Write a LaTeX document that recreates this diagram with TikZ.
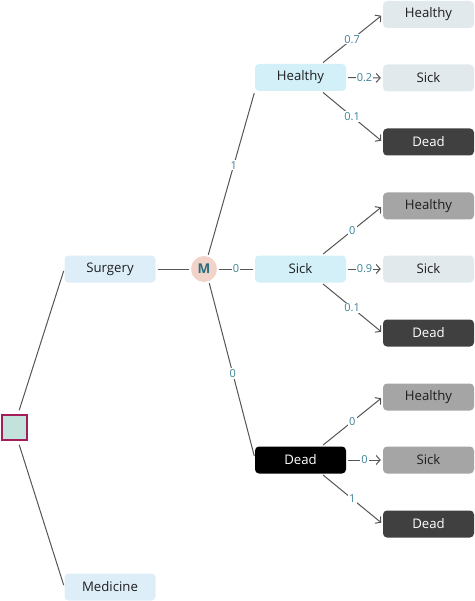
\documentclass[tikz,border=0pt]{standalone}
\usepackage{fontspec}
\setmainfont{Open Sans}
\usetikzlibrary{arrows.meta}
\definecolor{edgec}{RGB}{85,85,85}
\definecolor{lblc}{RGB}{60,130,150}
\definecolor{optf}{RGB}{222,238,249}
\definecolor{statef}{RGB}{211,240,248}
\definecolor{leafl}{RGB}{226,233,236}
\definecolor{leafm}{RGB}{165,165,165}
\definecolor{leafd}{RGB}{64,64,64}
\definecolor{rootf}{RGB}{196,226,220}
\definecolor{rootb}{RGB}{163,29,91}
\definecolor{mfill}{RGB}{241,211,201}
\definecolor{mtext}{RGB}{43,110,126}
\definecolor{txt}{RGB}{30,30,30}
\begin{document}
\begin{tikzpicture}[x=1pt,y=-1pt,
  box/.style={rounded corners=4pt, minimum width=91pt, minimum height=27pt, inner sep=0pt, text=txt, font=\fontsize{13.2}{15}\selectfont},
  optbox/.style={box, fill=optf},
  statebox/.style={box, fill=statef},
  deadstate/.style={box, fill=black, text=white},
  leaflight/.style={box, fill=leafl},
  leafmid/.style={box, fill=leafm},
  leafdark/.style={box, fill=leafd, text=white},
  edge/.style={draw=edgec, line width=1pt},
  arr/.style={edge, -{Straight Barb[length=4pt,width=9pt]}, shorten <=2pt, shorten >=2pt},
  lbl/.style={fill=white, text=lblc, inner sep=1.2pt, font=\fontsize{11}{13}\selectfont}
]
\useasboundingbox (0,0) rectangle (474,601);

% nodes
\node[draw=rootb, line width=2pt, fill=rootf, minimum size=25pt, inner sep=0pt] (R) at (14,427.5) {};
\node[optbox] (S) at (110,269) {Surgery};
\node[optbox] (Med) at (110,587) {Medicine};
\node[circle, fill=mfill, minimum size=26pt, inner sep=0pt, text=mtext, font=\fontsize{13.5}{15}\selectfont\bfseries] (M) at (204,269) {M};

\node[statebox] (H2) at (300.5,77.5) {Healthy};
\node[statebox] (S2) at (300.5,269) {Sick};
\node[deadstate] (D2) at (300.5,460) {Dead};

\node[leaflight] (HH) at (428.5,14.5) {Healthy};
\node[leaflight] (HS) at (428.5,78) {Sick};
\node[leafdark] (HD) at (428.5,142) {Dead};

\node[leafmid] (SH) at (428.5,206) {Healthy};
\node[leaflight] (SS) at (428.5,269) {Sick};
\node[leafdark] (SD) at (428.5,333) {Dead};

\node[leafmid] (DH) at (428.5,397) {Healthy};
\node[leafmid] (DS) at (428.5,460) {Sick};
\node[leafdark] (DD) at (428.5,524) {Dead};

% root connectors
\draw[edge, shorten <=4pt, shorten >=2pt] ([xshift=4pt]R.north) -- (S.west);
\draw[edge, shorten <=4pt, shorten >=2pt] ([xshift=4pt]R.south) -- (Med.west);

% surgery to M
\draw[edge, shorten <=2pt, shorten >=2pt] (S.east) -- (M.west);

% M to states
\draw[edge, shorten <=1pt, shorten >=2pt] ([xshift=4pt]M.north) -- (H2.south west) node[lbl, pos=0.55] {1};
\draw[edge, shorten <=2pt, shorten >=2pt] (M.east) -- (S2.west) node[lbl, midway] {0};
\draw[edge, shorten <=1pt, shorten >=2pt] ([xshift=5pt]M.south) -- ([yshift=2pt]D2.west) node[lbl, pos=0.52] {0};

% transitions from Healthy
\draw[arr] ([xshift=21pt]H2.north) -- (HH.west) node[lbl, midway] {0.7};
\draw[arr] (H2.east) -- (HS.west) node[lbl, midway] {0.2};
\draw[arr] ([xshift=21pt]H2.south) -- (HD.west) node[lbl, midway] {0.1};

% transitions from Sick
\draw[arr] ([xshift=21pt]S2.north) -- (SH.west) node[lbl, midway] {0};
\draw[arr] (S2.east) -- (SS.west) node[lbl, midway] {0.9};
\draw[arr] ([xshift=21pt]S2.south) -- (SD.west) node[lbl, midway] {0.1};

% transitions from Dead
\draw[arr] ([xshift=21pt]D2.north) -- (DH.west) node[lbl, midway] {0};
\draw[arr] (D2.east) -- (DS.west) node[lbl, midway] {0};
\draw[arr] ([xshift=21pt]D2.south) -- (DD.west) node[lbl, midway] {1};
\end{tikzpicture}
\end{document}
